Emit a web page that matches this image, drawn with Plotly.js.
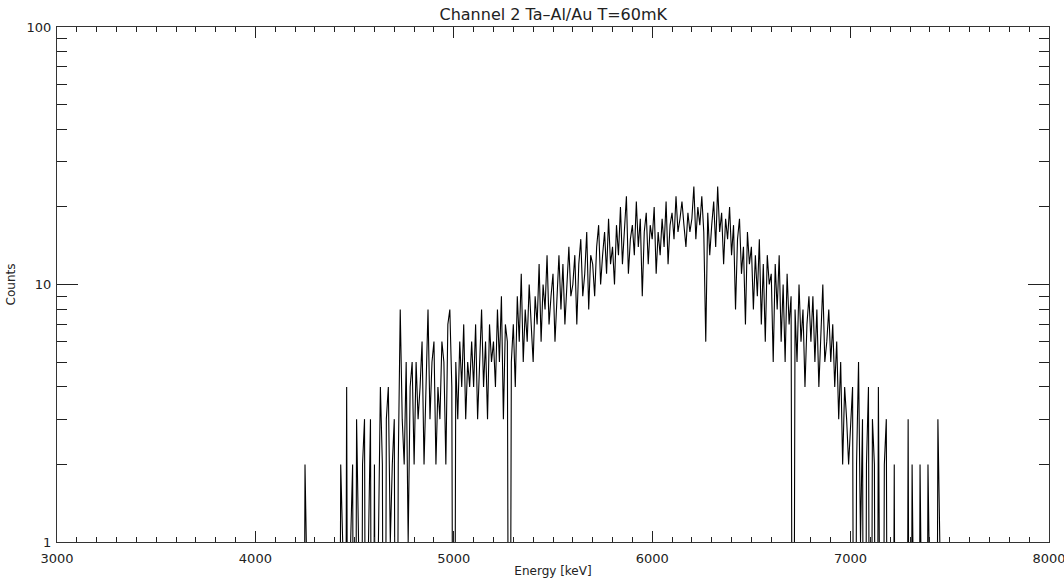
<!DOCTYPE html>
<html>
<head>
<meta charset="utf-8">
<script src="https://cdn.plot.ly/plotly-3.0.1.min.js"></script>
<style>html,body{margin:0;padding:0;background:#fff;}#chart{width:1064px;height:581px;overflow:hidden;}</style>
</head>
<body>
<div id="chart"></div>
<script>
// Energy bins (keV): start and width
const binStart = 4200;
const binWidth = 10;
// Counts per 10 keV bin, 4200 .. 7500 keV (0 = empty bin)
const counts = [
  0,0,0,0,0,2,0,0,0,0,          // 4200
  0,0,0,0,0,0,0,0,0,0,          // 4300
  0,0,0,2,1,0,4,0,1,2,          // 4400
  0,3,1,0,2,3,0,1,3,0,          // 4500
  2,0,1,4,2,0,3,4,1,2,          // 4600
  3,0,2,8,3,2,5,1,4,5,          // 4700
  2,5,3,4,6,2,4,8,3,5,          // 4800
  6,2,4,3,6,5,2,7,8,4,          // 4900
  0,5,3,6,4,7,3,5,4,6,          // 5000
  4,7,3,5,8,4,6,3,7,5,          // 5100
  6,4,8,5,9,3,7,6,0,5,          // 5200
  7,4,9,6,11,5,8,6,10,7,        // 5300
  5,9,7,12,6,10,8,13,7,9,       // 5400
  11,6,9,13,8,12,7,10,14,9,     // 5500
  10,13,7,12,15,9,11,16,8,13,   // 5600
  12,9,14,17,10,13,16,11,18,12, // 5700
  14,10,17,13,20,12,16,22,11,15,// 5800
  17,13,21,14,18,9,16,19,12,17, // 5900
  15,20,11,16,13,18,14,21,12,17,// 6000
  19,15,22,16,18,21,17,14,19,16,// 6100
  18,24,15,20,17,22,16,6,19,13, // 6200
  17,21,14,24,16,19,12,18,15,20,// 6300
  13,17,8,15,18,11,14,7,16,12,  // 6400
  14,8,13,9,15,7,12,6,13,10,    // 6500
  11,5,12,8,13,6,10,5,11,7,     // 6600
  9,0,8,5,10,6,8,4,7,9,         // 6700
  6,9,5,8,4,7,10,5,6,8,         // 6800
  5,7,4,6,3,5,2,4,3,2,          // 6900
  3,4,0,2,5,1,3,0,2,4,          // 7000
  0,3,2,0,4,1,0,2,3,0,          // 7100
  1,0,2,0,1,0,0,0,0,3,          // 7200
  0,2,0,0,0,2,0,0,0,2,          // 7300
  0,0,0,0,3,0,0,0,0,0,          // 7400
  0                             // 7500
];
const xTickVals = [3000, 4000, 5000, 6000, 7000, 8000];
const yTickVals = [1, 10, 100];
const yTickText = ['1', '10', '100'];
const titleText = 'Channel 2 Ta\u2013Al/Au T=60mK';
const xTitle = 'Energy [keV]';
const yTitle = 'Counts';

const energies = counts.map((c, i) => binStart + i * binWidth);
// empty bins are drawn far below the axis (log of zero), so the line drops to the bottom
const plotY = counts.map(c => c > 0 ? c : 0.01);

const fam = 'DejaVu Sans, Liberation Sans, sans-serif';
const font = {family: fam, size: 13, color: '#222'};

const trace = {
  x: energies, y: plotY, type: 'scatter', mode: 'lines',
  line: {color: '#000', width: 1.1}, hoverinfo: 'skip'
};

const layout = {
  width: 1064, height: 581,
  margin: {l: 57, r: 15, t: 27, b: 39, pad: 0},
  paper_bgcolor: '#fff', plot_bgcolor: '#fff',
  showlegend: false,
  font: font,
  title: {text: titleText, x: 0.52, xanchor: 'center', y: 0.976, yanchor: 'middle',
          font: {family: fam, size: 16, color: '#222'}},
  xaxis: {
    range: [3000, 8000], tickmode: 'array', tickvals: xTickVals, tickformat: 'd',
    ticks: 'inside', ticklen: 11, tickwidth: 1, tickcolor: '#222',
    showline: true, linecolor: '#333', linewidth: 1, mirror: 'ticks',
    showgrid: false, zeroline: false, ticklabelstandoff: 4, ticklabeloverflow: 'allow',
    minor: {dtick: 100, ticks: 'inside', ticklen: 5, tickwidth: 1, tickcolor: '#222', showgrid: false},
    tickfont: font,
    title: {text: xTitle, font: {family: fam, size: 12, color: '#222'}, standoff: 2}
  },
  yaxis: {
    type: 'log', range: [0, 2], tickmode: 'array', tickvals: yTickVals, ticktext: yTickText,
    ticks: 'inside', ticklen: 21, tickwidth: 1, tickcolor: '#222',
    showline: true, linecolor: '#333', linewidth: 1, mirror: 'ticks',
    showgrid: false, zeroline: false, ticklabelstandoff: 2,
    minor: {dtick: 'D1', ticks: 'inside', ticklen: 10, tickwidth: 1, tickcolor: '#222', showgrid: false},
    tickfont: font,
    title: {text: yTitle, font: {family: fam, size: 12, color: '#222'}, standoff: 8}
  }
};

Plotly.newPlot('chart', [trace], layout, {staticPlot: true, displayModeBar: false});
</script>
</body>
</html>
